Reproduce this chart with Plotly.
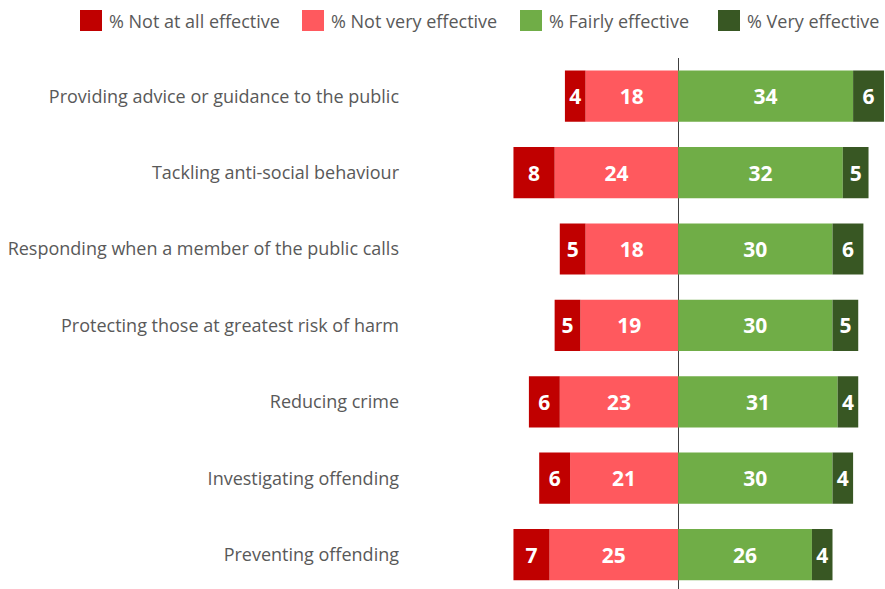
import plotly.graph_objects as go

# Survey results: how effective the police are at each activity (%)
activities = [
    "Providing advice or guidance to the public",
    "Tackling anti-social behaviour",
    "Responding when a member of the public calls",
    "Protecting those at greatest risk of harm",
    "Reducing crime",
    "Investigating offending",
    "Preventing offending",
]
not_at_all = [4, 8, 5, 5, 6, 6, 7]
not_very = [18, 24, 18, 19, 23, 21, 25]
fairly = [34, 32, 30, 30, 31, 30, 26]
very = [6, 5, 6, 5, 4, 4, 4]

series_names = ["% Not at all effective", "% Not very effective",
                "% Fairly effective", "% Very effective"]
colors = ["#C00000", "#FF595E", "#70AD47", "#385723"]

W, H = 885, 589
LEFT = 409
TOP = 58

fig = go.Figure()


def add_series(values, sign, color, name):
    fig.add_trace(go.Bar(
        y=activities,
        x=[sign * v for v in values],
        orientation="h",
        name=name,
        marker=dict(color=color, line=dict(width=0)),
        width=0.67,
        text=[str(v) for v in values],
        textposition="inside",
        insidetextanchor="middle",
        textangle=0,
        constraintext="none",
        textfont=dict(family="Open Sans", size=21, color="white", weight="bold"),
        cliponaxis=False,
        showlegend=False,
        hoverinfo="skip",
    ))


# negative side stacks outward from zero: "not very" first, then "not at all"
add_series(not_very, -1, colors[1], series_names[1])
add_series(not_at_all, -1, colors[0], series_names[0])
# positive side: "fairly" next to zero, then "very"
add_series(fairly, 1, colors[2], series_names[2])
add_series(very, 1, colors[3], series_names[3])

fig.update_layout(
    width=W, height=H,
    barmode="relative",
    bargap=0.33,
    plot_bgcolor="white",
    paper_bgcolor="white",
    margin=dict(l=LEFT, r=0, t=TOP, b=0),
    font=dict(family="Open Sans", color="#595959"),
    xaxis=dict(
        range=[-52.3, 40.2],
        showgrid=False,
        showticklabels=False,
        ticks="",
        zeroline=True,
        zerolinecolor="#404040",
        zerolinewidth=1,
        fixedrange=True,
    ),
    yaxis=dict(
        categoryorder="array",
        categoryarray=activities,
        autorange=False,
        range=[6.45, -0.5],
        showgrid=False,
        ticks="",
        ticklabelstandoff=9,
        tickfont=dict(family="Open Sans", size=18, color="#595959"),
        fixedrange=True,
    ),
)

# Legend drawn as colour swatches with labels across the top
swatch_x = [80, 302, 520, 718]
for x0, name, color in zip(swatch_x, series_names, colors):
    fig.add_shape(
        type="rect", xref="paper", yref="paper",
        x0=(x0 - LEFT) / (W - LEFT), x1=(x0 + 22 - LEFT) / (W - LEFT),
        y0=(H - 31 - 0) / (H - TOP) if False else 1 + (TOP - 31) / (H - TOP),
        y1=1 + (TOP - 10) / (H - TOP),
        fillcolor=color, line=dict(width=0),
    )
    fig.add_annotation(
        xref="paper", yref="paper",
        x=(x0 + 27 - LEFT) / (W - LEFT),
        y=1 + (TOP - 20.5) / (H - TOP),
        text=name, showarrow=False,
        xanchor="left", yanchor="middle",
        font=dict(family="Open Sans", size=18, color="#595959"),
    )

fig.write_html("out.html")
